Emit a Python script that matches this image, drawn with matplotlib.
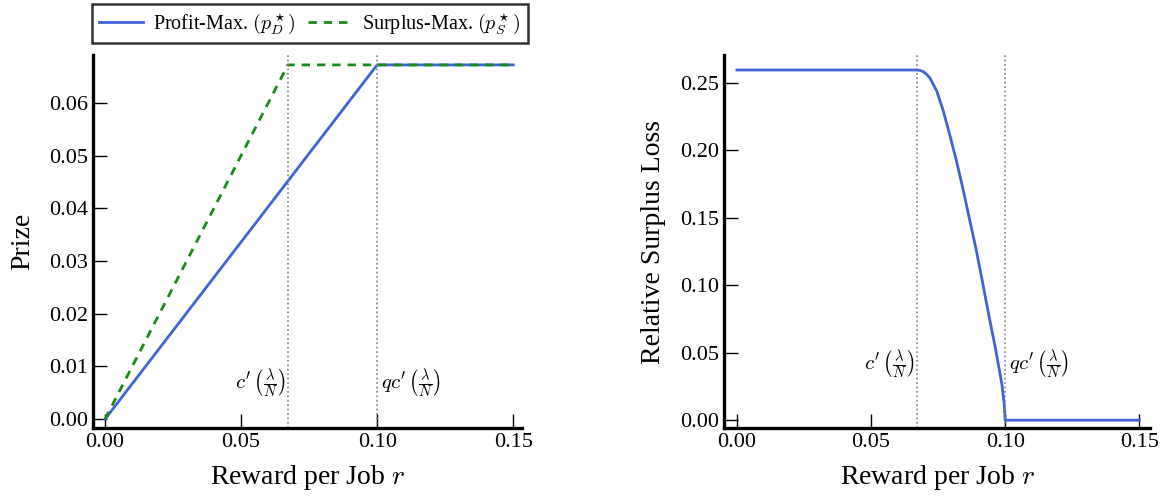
import numpy as np
import matplotlib
matplotlib.use("Agg")
import matplotlib.pyplot as plt

# reward per job r and prizes
c_prime = 0.0672
qc_prime = 0.1

r_profit = [0.0, 0.1, 0.15]
prize_profit = [0.0, 0.0672, 0.0672]

r_surplus = [0.0, 0.0672, 0.15]
prize_surplus = [0.0, 0.0672, 0.0672]

# relative surplus loss curve
r_loss = [0.0, 0.0672, 0.0684, 0.0696, 0.0708, 0.0720, 0.0745, 0.0769,
          0.0793, 0.0818, 0.0842, 0.0866, 0.0891, 0.0915, 0.0939, 0.0964,
          0.0988, 0.0997, 0.1, 0.15]
loss = [0.2596, 0.2596, 0.2592, 0.2582, 0.2562, 0.2535, 0.2440, 0.2295,
        0.2120, 0.1925, 0.1722, 0.1500, 0.1274, 0.1030, 0.0780, 0.0532,
        0.0265, 0.0110, 0.0, 0.0]

x_ticks = [0.0, 0.05, 0.10, 0.15]
x_ticklabels = ["0.00", "0.05", "0.10", "0.15"]

plt.rcParams["font.family"] = ["Liberation Serif", "DejaVu Serif"]
plt.rcParams["mathtext.fontset"] = "cm"

blue = "#4063d8"
green = "#178a17"

lab_c = r"$c'\,\left(\frac{\lambda}{N}\right)$"
lab_qc = r"$qc'\,\left(\frac{\lambda}{N}\right)$"


def style_axes(ax):
    for side in ["top", "right"]:
        ax.spines[side].set_visible(False)
    for side in ["left", "bottom"]:
        ax.spines[side].set_linewidth(2.4)
    ax.tick_params(direction="in", length=10, width=1, labelsize=16)
    ax.set_xticks(x_ticks)
    ax.set_xticklabels(x_ticklabels)
    ax.set_xlabel(r"Reward per Job $\it{r}$", fontsize=20, labelpad=8)


fig = plt.figure(figsize=(11.63, 4.99), dpi=100)
ax1 = fig.add_axes([0.080, 0.142, 0.369, 0.748])
ax2 = fig.add_axes([0.6225, 0.142, 0.3665, 0.748])

# left panel: prizes
ax1.plot(r_profit, prize_profit, color=blue, lw=2,
         label=r"Profit-Max. $(p^\star_D)$")
ax1.plot(r_surplus, prize_surplus, color=green, lw=2, ls=(0, (3, 2.5)),
         label=r"Surplus-Max. $(p^\star_S)$")
ax1.axvline(c_prime, color="grey", ls=":", lw=1.2)
ax1.axvline(qc_prime, color="grey", ls=":", lw=1.2)
ax1.text(c_prime - 0.0008, 0.0068, lab_c, fontsize=15,
         ha="right", va="center")
ax1.text(qc_prime + 0.0015, 0.0068, lab_qc, fontsize=15,
         ha="left", va="center")
ax1.set_xlim(-0.0044, 0.1533)
ax1.set_ylim(-0.0017, 0.0691)
ax1.set_yticks(np.arange(0, 0.061, 0.01))
ax1.set_yticklabels(["0.00", "0.01", "0.02", "0.03", "0.04", "0.05", "0.06"])
ax1.set_ylabel("Prize", fontsize=20, labelpad=10)
style_axes(ax1)
leg = ax1.legend(loc="lower center", bbox_to_anchor=(0.505, 1.0), ncol=2,
                 fontsize=14.5, frameon=True, fancybox=False, handlelength=2.2,
                 columnspacing=0.6, handletextpad=0.5, borderpad=0.35,
                 borderaxespad=0.6)
leg.get_frame().set_edgecolor("black")
leg.get_frame().set_linewidth(1.8)

# right panel: relative surplus loss
ax2.plot(r_loss, loss, color=blue, lw=2)
ax2.axvline(c_prime, color="grey", ls=":", lw=1.2)
ax2.axvline(qc_prime, color="grey", ls=":", lw=1.2)
ax2.text(c_prime - 0.0008, 0.041, lab_c, fontsize=15,
         ha="right", va="center")
ax2.text(qc_prime + 0.0015, 0.041, lab_qc, fontsize=15,
         ha="left", va="center")
ax2.set_xlim(-0.00485, 0.1541)
ax2.set_ylim(-0.0059, 0.2708)
ax2.set_yticks(np.arange(0, 0.251, 0.05))
ax2.set_yticklabels(["0.00", "0.05", "0.10", "0.15", "0.20", "0.25"])
ax2.set_ylabel("Relative Surplus Loss", fontsize=20, labelpad=10)
style_axes(ax2)

fig.savefig("out.png", dpi=100)
